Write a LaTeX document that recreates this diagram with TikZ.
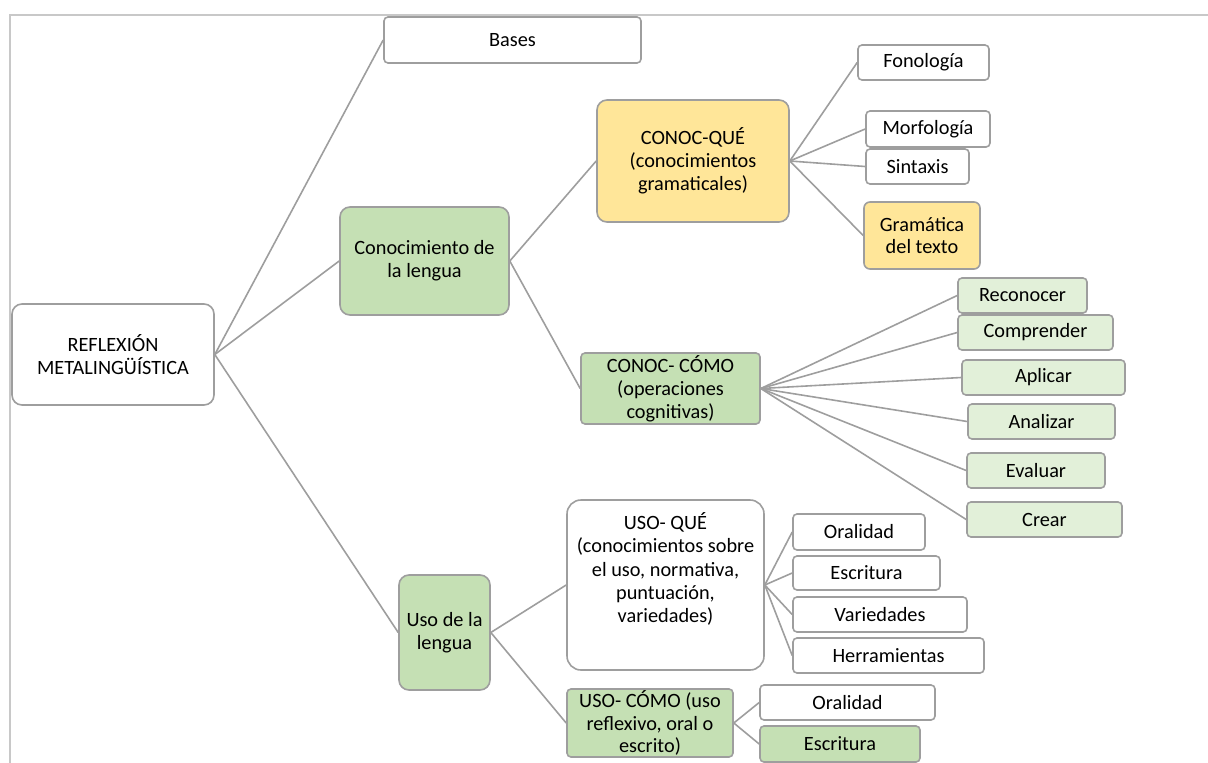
\documentclass[tikz,border=0pt]{standalone}
\usepackage{fontspec}
\setmainfont{Carlito}
\definecolor{bordc}{HTML}{9E9E9E}
\definecolor{linec}{HTML}{9E9E9E}
\definecolor{framec}{HTML}{C8C8C8}
\definecolor{greenf}{HTML}{C5E0B4}
\definecolor{yellowf}{HTML}{FFE699}
\definecolor{lgreenf}{HTML}{E2F0D9}
\tikzset{
  box/.style={draw=bordc, line width=1.6pt, rounded corners=4pt, fill=white, align=center, inner sep=0pt,
    font=\fontsize{20.3}{22.8}\selectfont, text=black},
  bigbox/.style={box, rounded corners=10pt},
  gbox/.style={fill=greenf},
  ybox/.style={fill=yellowf},
  lgbox/.style={fill=lgreenf},
  conn/.style={draw=linec, line width=1.6pt},
  plain/.style={align=center, inner sep=0pt, font=\fontsize{20.3}{23.2}\selectfont}
}
\begin{document}
\begin{tikzpicture}[x=1pt,y=-1pt]
\useasboundingbox (0,0) rectangle (1208,763);
\draw[framec, line width=1.5pt] (10,763) -- (10,15) -- (1208,15);

% nodes
\node[bigbox, minimum width=202, minimum height=101] (rm) at (113,354.5) {REFLEXIÓN\\METALINGÜÍSTICA};
\node[box, minimum width=257, minimum height=46] (bases) at (512.5,40) {Bases};
\node[bigbox, gbox, minimum width=169, minimum height=108] (cl) at (424.5,261) {Conocimiento de\\la lengua};
\node[bigbox, ybox, minimum width=192, minimum height=122] (cq) at (693,161) {CONOC-QUÉ\\(conocimientos\\gramaticales)};
\node[box, minimum width=131, minimum height=35] (fon) at (923.5,62.5) {Fonología};
\node[box, minimum width=124, minimum height=36] (mor) at (928,129) {Morfología};
\node[box, minimum width=103, minimum height=35] (sin) at (917.5,166.5) {Sintaxis};
\node[bigbox, ybox, rounded corners=6pt, minimum width=116, minimum height=67] (gra) at (922,235.5) {Gramática\\del texto};

\node[box, gbox, minimum width=179, minimum height=71] (cc) at (670.5,388.5) {CONOC- CÓMO\\(operaciones\\cognitivas)};
\node[box, lgbox, minimum width=129, minimum height=35] (rec) at (1022.5,295.5) {Reconocer};
\node[box, lgbox, minimum width=155, minimum height=35] (com) at (1035.5,332.5) {Comprender};
\node[box, lgbox, minimum width=163, minimum height=35] (apl) at (1043.5,377.5) {Aplicar};
\node[box, lgbox, minimum width=147, minimum height=35] (ana) at (1041.5,421.5) {Analizar};
\node[box, lgbox, minimum width=138, minimum height=35] (eva) at (1036,470.5) {Evaluar};
\node[box, lgbox, minimum width=155, minimum height=35] (cre) at (1044.5,519.5) {Crear};

\node[bigbox, gbox, minimum width=91, minimum height=115] (ul) at (444.5,632.5) {Uso de la\\lengua};
\node[bigbox, rounded corners=14pt, minimum width=197, minimum height=170] (uq) at (665.5,585) {};
\node[plain] (uqt) at (665.5,569) {USO- QUÉ\\(conocimientos sobre\\el uso, normativa,\\puntuación,\\variedades)};
\node[box, minimum width=132, minimum height=36] (or1) at (859,532) {Oralidad};
\node[box, minimum width=147, minimum height=34] (es1) at (866.5,573) {Escritura};
\node[box, minimum width=174, minimum height=35] (var) at (880,614.5) {Variedades};
\node[box, minimum width=191, minimum height=35] (her) at (888.5,655.5) {Herramientas};

\node[box, gbox, minimum width=166, minimum height=68] (uc) at (650,723) {USO- CÓMO (uso\\reflexivo, oral o\\escrito)};
\node[box, minimum width=175, minimum height=35] (or2) at (847.5,702.5) {Oralidad};
\node[box, gbox, minimum width=160, minimum height=36] (es2) at (840,744) {Escritura};

% connectors
\draw[conn] (rm.east) -- (bases.west);
\draw[conn] (rm.east) -- (cl.west);
\draw[conn] (rm.east) -- (ul.west);
\draw[conn] (cl.east) -- (cq.west);
\draw[conn] (cl.east) -- (cc.west);
\foreach \n in {fon,mor,sin,gra} \draw[conn] (cq.east) -- (\n.west);
\foreach \n in {rec,com,apl,ana,eva,cre} \draw[conn] (cc.east) -- (\n.west);
\draw[conn] (ul.east) -- (uq.west);
\draw[conn] (ul.east) -- (uc.west);
\foreach \n in {or1,es1,var,her} \draw[conn] (uq.east) -- (\n.west);
\foreach \n in {or2,es2} \draw[conn] (uc.east) -- (\n.west);
\end{tikzpicture}
\end{document}
